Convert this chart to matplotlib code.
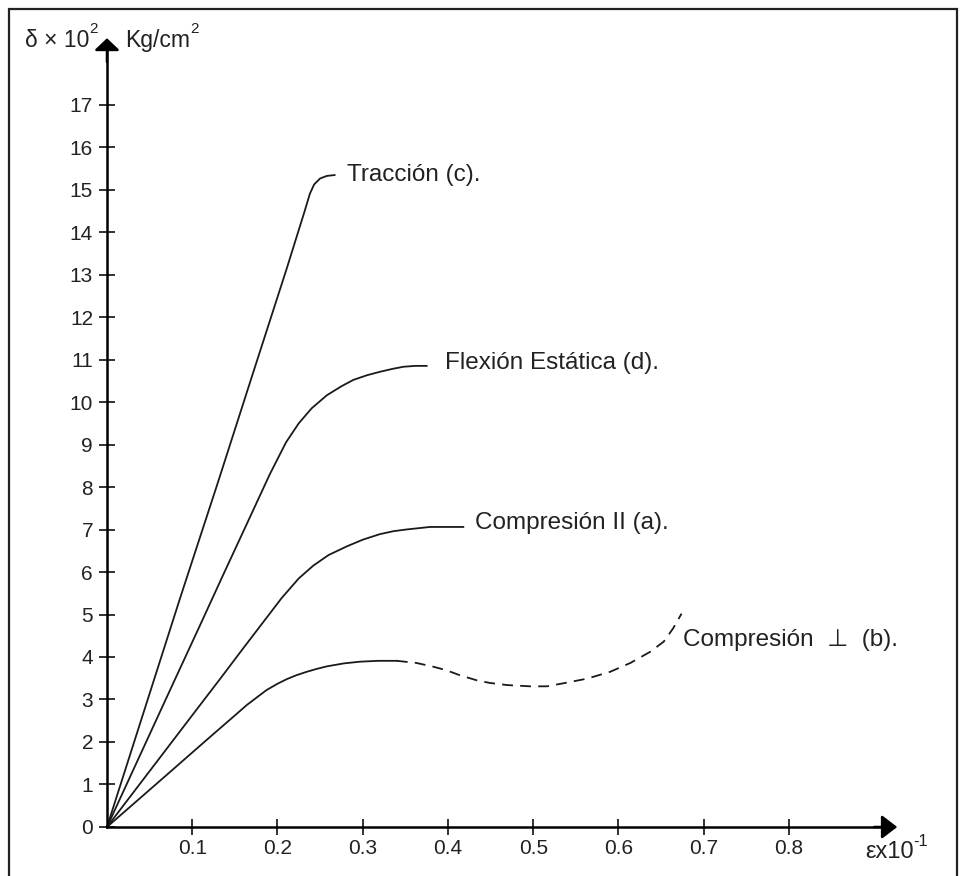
import numpy as np
import matplotlib
matplotlib.use("Agg")
import matplotlib.pyplot as plt
from matplotlib.patches import Rectangle

plt.rcParams['font.family'] = ['Liberation Sans', 'DejaVu Sans']

# strain (x10^-1) and stress (x10^2 Kg/cm2)
x_traccion = [0, 0.043, 0.086, 0.130, 0.170, 0.211, 0.232, 0.238, 0.243, 0.250, 0.258, 0.267]
y_traccion = [0, 2.70, 5.40, 8.10, 10.60, 13.15, 14.50, 14.90, 15.12, 15.26, 15.32, 15.34]

x_flexion = [0, 0.070, 0.109, 0.136, 0.164, 0.191, 0.210, 0.225, 0.240, 0.258, 0.275, 0.289, 0.305,
             0.320, 0.335, 0.348, 0.362, 0.375]
y_flexion = [0, 3.05, 4.74, 5.92, 7.13, 8.30, 9.05, 9.50, 9.85, 10.16, 10.37, 10.52, 10.63,
             10.71, 10.78, 10.83, 10.85, 10.85]

x_comp_par = [0, 0.070, 0.105, 0.1325, 0.160, 0.205, 0.225, 0.242, 0.260, 0.281, 0.300, 0.320,
              0.336, 0.351, 0.365, 0.379, 0.400, 0.418]
y_comp_par = [0, 1.84, 2.76, 3.48, 4.21, 5.39, 5.85, 6.15, 6.40, 6.60, 6.76, 6.89,
              6.96, 7.00, 7.03, 7.06, 7.06, 7.06]

x_comp_perp = [0, 0.0583, 0.0817, 0.105, 0.125, 0.144, 0.164, 0.187, 0.200, 0.211, 0.222, 0.234,
               0.246, 0.258, 0.278, 0.297, 0.318, 0.340]
y_comp_perp = [0, 1.02, 1.43, 1.84, 2.19, 2.52, 2.87, 3.22, 3.37, 3.48, 3.57, 3.65,
               3.72, 3.78, 3.85, 3.89, 3.91, 3.91]
x_comp_perp_dash = [0.340, 0.363, 0.383, 0.398, 0.414, 0.434, 0.449, 0.469, 0.496, 0.516, 0.535,
                    0.563, 0.590, 0.614, 0.637, 0.653, 0.664, 0.674]
y_comp_perp_dash = [3.91, 3.86, 3.77, 3.69, 3.57, 3.45, 3.39, 3.34, 3.31, 3.31, 3.38,
                    3.49, 3.65, 3.86, 4.12, 4.36, 4.67, 5.02]

x_ticks = [0.1, 0.2, 0.3, 0.4, 0.5, 0.6, 0.7, 0.8]
y_ticks = list(range(0, 18))

fig = plt.figure(figsize=(9.61, 8.76), dpi=100)
ax = fig.add_axes([0, 0, 1, 1])
ax.set_xlim(-0.1255, 1.0018)
ax.set_ylim(-1.153, 19.459)

# frame round the picture
fig.patches.append(Rectangle((9 / 961, -0.01), 948 / 961, 0.01 + 867 / 876, transform=fig.transFigure,
                             fill=False, lw=1.6, edgecolor='#222222'))

lc = '#1a1a1a'
ax.plot(x_traccion, y_traccion, color=lc, lw=1.3)
ax.plot(x_flexion, y_flexion, color=lc, lw=1.3)
ax.plot(x_comp_par, y_comp_par, color=lc, lw=1.3)
ax.plot(x_comp_perp, y_comp_perp, color=lc, lw=1.3)
ax.plot(x_comp_perp_dash, y_comp_perp_dash, color=lc, lw=1.3, dashes=(6, 4))

# axes through the origin
for s in ['top', 'right']:
    ax.spines[s].set_visible(False)
ax.spines['left'].set_position(('data', 0))
ax.spines['bottom'].set_position(('data', 0))
ax.spines['left'].set_bounds(0, 18.4)
ax.spines['bottom'].set_bounds(0, 0.915)
ax.spines['left'].set_linewidth(1.8)
ax.spines['bottom'].set_linewidth(1.8)

ax.annotate('', xy=(0.927, 0), xytext=(0.90, 0),
            arrowprops=dict(arrowstyle='-|>,head_length=0.47,head_width=0.36', mutation_scale=20,
                            lw=1.8, color='black', shrinkA=0, shrinkB=0))
ax.annotate('', xy=(0, 18.56), xytext=(0, 18.0),
            arrowprops=dict(arrowstyle='-|>,head_length=0.36,head_width=0.38', mutation_scale=20,
                            lw=1.8, color='black', shrinkA=0, shrinkB=0))

ax.set_xticks(x_ticks)
ax.set_xticklabels([str(v) for v in x_ticks])
ax.set_yticks(y_ticks)
ax.set_yticklabels([str(v) for v in y_ticks])
ax.tick_params(direction='inout', length=12, width=1.3, labelsize=15, colors='#222222')
ax.tick_params(axis='x', pad=3)
ax.tick_params(axis='y', pad=4)

# axis titles
t1 = ax.text(-0.021, 18.50, 'δ × 10', ha='right', va='center', fontsize=16.5, color='#222222')
ax.annotate('2', xy=(1, 1), xycoords=t1, ha='left', va='center', fontsize=11, color='#222222')
t2 = ax.text(0.0211, 18.50, 'Kg/cm', ha='left', va='center', fontsize=16.5, color='#222222')
ax.annotate('2', xy=(1, 1), xycoords=t2, ha='left', va='center', fontsize=11, color='#222222')
t3 = ax.text(0.889, -0.6, 'εx10', ha='left', va='center', fontsize=17, color='#222222')
ax.annotate('-1', xy=(1, 1), xycoords=t3, ha='left', va='center', fontsize=12, color='#222222')

# curve names
ax.text(0.2815, 15.34, 'Tracción (c).', ha='left', va='center', fontsize=17.5, color='#222222')
ax.text(0.3965, 10.92, 'Flexión Estática (d).', ha='left', va='center', fontsize=17.5, color='#222222')
ax.text(0.4317, 7.15, 'Compresión II (a).', ha='left', va='center', fontsize=17.5, color='#222222')
ax.text(0.6757, 4.40, 'Compresión  ⊥  (b).', ha='left', va='center', fontsize=17.5, color='#222222')

fig.savefig('out.png', dpi=100)
